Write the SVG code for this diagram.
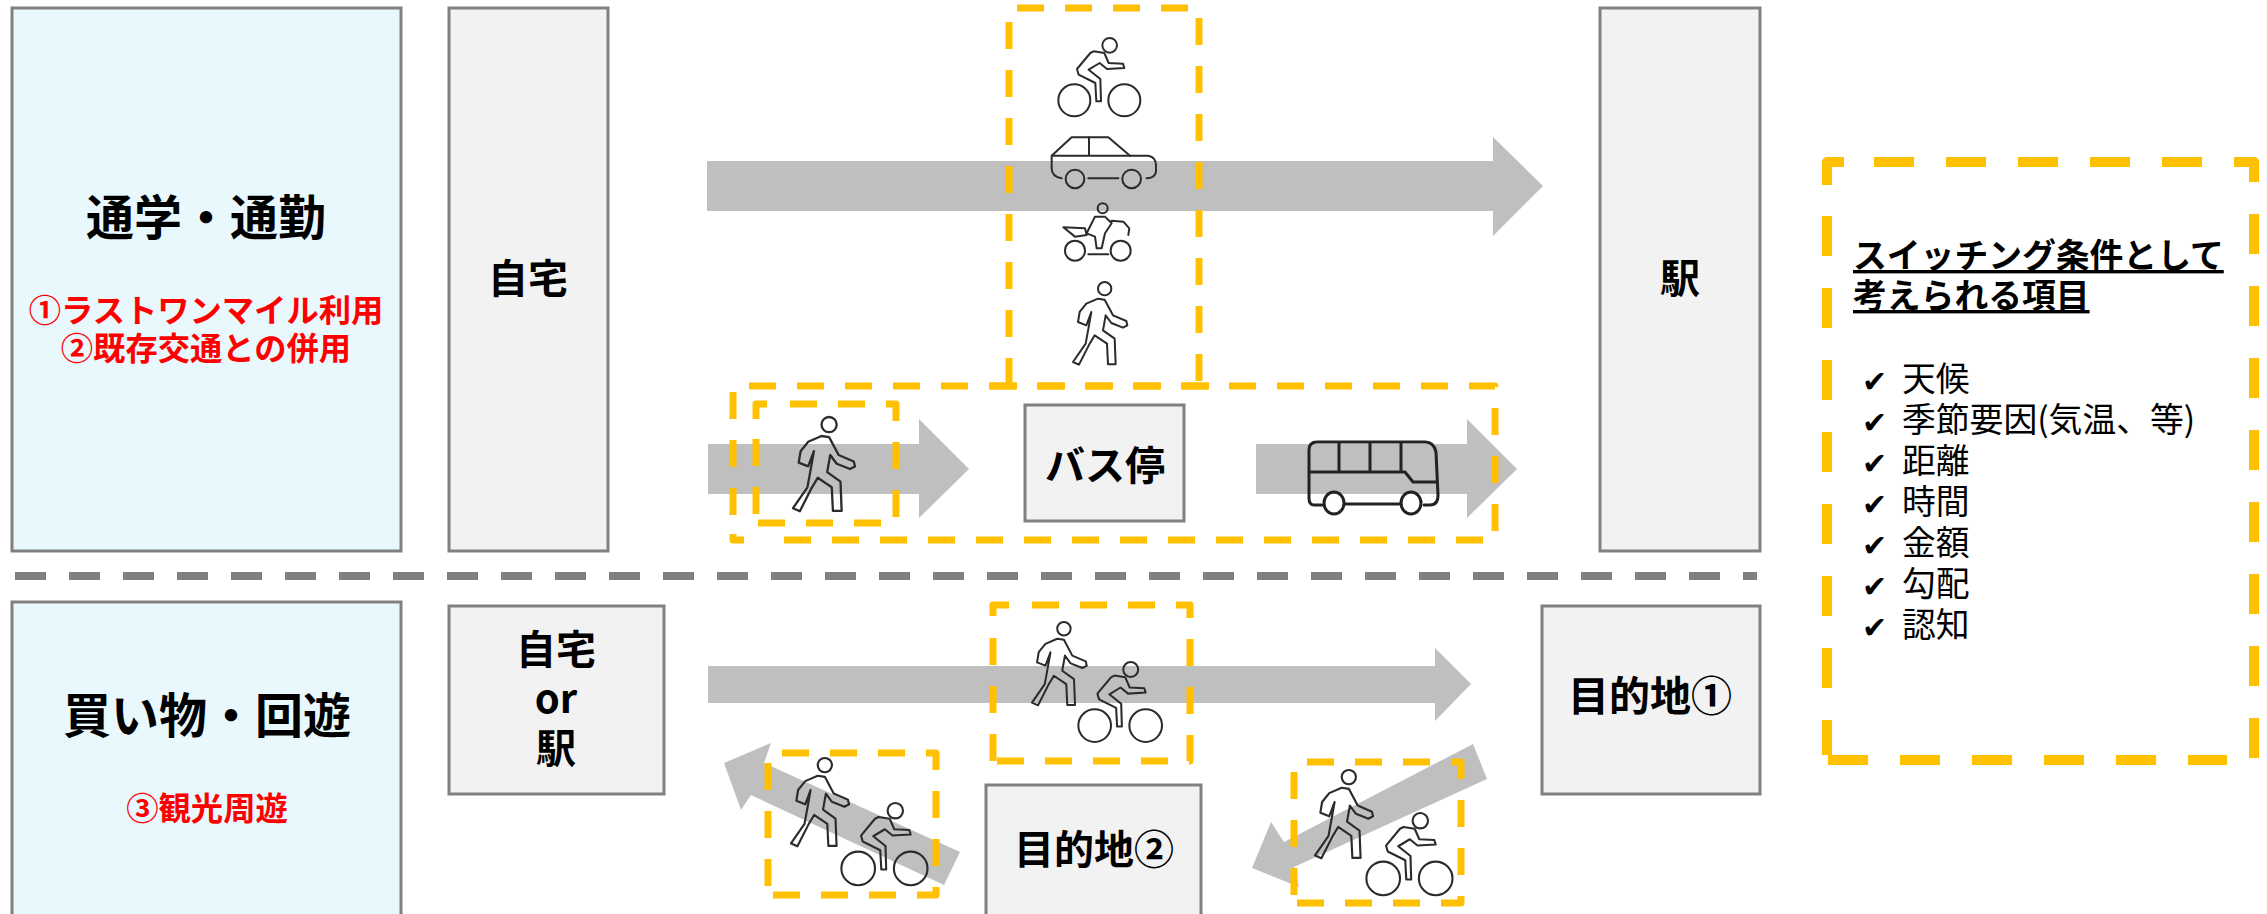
<svg xmlns="http://www.w3.org/2000/svg" xmlns:xlink="http://www.w3.org/1999/xlink" width="2267" height="914" viewBox="0 0 2267 914">
<style>
text{font-family:"Noto Sans CJK JP","Noto Sans CJK SC","Liberation Sans",sans-serif;fill:#000}
.c{text-anchor:middle}
.h{font-size:48px;font-weight:700}
.r{font-size:32.3px;font-weight:700;fill:#f00}
.m{font-size:40px;font-weight:700}
.t{font-size:33.8px;font-weight:700;text-decoration:underline}
.l{font-size:33.8px}
.k{font-size:30px;font-family:"DejaVu Sans",sans-serif;font-weight:700}
.bl{fill:#e9f8fd;stroke:#808080;stroke-width:3}
.gr{fill:#f2f2f2;stroke:#808080;stroke-width:3}
.ar{fill:#bfbfbf}
.d{fill:none;stroke:#ffc000;stroke-width:7;stroke-dasharray:27 21;stroke-linejoin:round}
.d2{fill:none;stroke:#ffc000;stroke-width:10;stroke-dasharray:40 32;stroke-linejoin:round}
.sep{fill:none;stroke:#7f7f7f;stroke-width:8;stroke-dasharray:31 23}
.i{fill:none;stroke:#2b2b2b;stroke-width:6;stroke-linejoin:round;stroke-linecap:round}
.s{fill:none;stroke:#222;stroke-width:3;stroke-linejoin:round;stroke-linecap:round}
</style>
<defs>
<g id="walker" transform="translate(-280,-845)" class="i">
<ellipse cx="375" cy="865" rx="20" ry="20"/>
<path d="M355 895L375 898L400 945L440 962L443 975L430 982L395 968L378 945L370 990L405 1015L408 1092L385 1092L382 1030L345 1005L330 1030L298 1093L280 1085L318 1030L328 975L335 935L320 975L295 965L300 935L320 910Z"/>
</g>
<g id="cyclist" transform="translate(-230,-115)" class="i">
<circle cx="282" cy="302" r="48"/><circle cx="432" cy="302" r="48"/><circle cx="388" cy="137" r="22"/>
<path d="M340 155L372 160L385 190L428 192L432 205L380 208L358 190L325 210L360 238L362 305L348 305L345 250L295 225L290 208L330 160Z"/>
</g>
</defs>
<g id="connectors">
<polygon class="ar" points="707,161 1493,161 1493,137 1543,186 1493,236 1493,211 707,211"/>
<polygon class="ar" points="708,444 919,444 919,419 969,469 919,518 919,494 708,494"/>
<polygon class="ar" points="1256,444 1467,444 1467,419 1517,469 1467,518 1467,494 1256,494"/>
<polygon class="ar" points="708,666 1435,666 1435,648 1471,684 1435,721 1435,703 708,703"/>
<polygon class="ar" points="724,763 771,743 764,763 960,852 944,885 751,795 741,810"/>
<polygon class="ar" points="1473,744 1487,779 1294,867 1299,887 1252,868 1271,822 1284,842"/>
</g>
<g id="node-commute"><rect class="bl" x="12" y="8" width="389" height="543"/>
<text class="h c" x="206" y="235">通学・通勤</text>
<text class="r c" x="206" y="322">①ラストワンマイル利用</text>
<text class="r c" x="206" y="360">②既存交通との併用</text></g>
<g id="node-shopping"><rect class="bl" x="12" y="602" width="389" height="320"/>
<text class="h c" x="207" y="733">買い物・回遊</text>
<text class="r c" x="207" y="820">③観光周遊</text></g>
<g id="node-home"><rect class="gr" x="449" y="8" width="159" height="543"/><text class="m c" x="528" y="293">自宅</text></g>
<g id="node-station"><rect class="gr" x="1600" y="8" width="160" height="543"/><text class="m c" x="1680" y="293">駅</text></g>
<g id="node-busstop"><rect class="gr" x="1025" y="405" width="159" height="116"/><text class="m c" x="1105" y="480">バス停</text></g>
<g id="node-home-or-station"><rect class="gr" x="449" y="606" width="215" height="188"/>
<text class="m c" x="556" y="664">自宅</text><text class="m c" x="556" y="713">or</text><text class="m c" x="556" y="763">駅</text></g>
<g id="node-dest1"><rect class="gr" x="1542" y="606" width="218" height="188"/><text class="c" x="1650" y="711" style="font-size:41px;font-weight:700">目的地①</text></g>
<g id="node-dest2"><rect class="gr" x="986" y="785" width="215" height="135"/><text class="m c" x="1094" y="864">目的地②</text></g>
<g id="sep"><path class="sep" d="M15 576H1757"/></g>
<g id="dash-top"><path class="d" d="M1017 8H1199V386"/><path class="d" d="M1009 22V386"/><path class="d" d="M990 386H1210"/></g>
<g id="dash-bus"><path class="d" d="M749 386H1495V540H781"/><path class="d" d="M733 392V516"/><path class="d" d="M733 534V540H744"/></g>
<g id="dash-walk"><path class="d" d="M790 404H896V523H758"/><path class="d" d="M756 419V404H767"/><path class="d" d="M756 439V516"/></g>
<g id="dash-mid"><path class="d" d="M1032 605H1190V761H993"/><path class="d" d="M993 616V605H1010"/><path class="d" d="M993 638V761"/></g>
<g id="dash-left"><path class="d" d="M782 753H936V895H770"/><path class="d" d="M768 763V895"/></g>
<g id="dash-right"><path class="d" d="M1307 762H1461V903H1294"/><path class="d" d="M1294 772V903"/></g>
<g id="icon-bicycle-top"><use xlink:href="#cyclist" href="#cyclist" transform="translate(1057,38) scale(.3333)"/></g>
<g id="icon-car" transform="translate(980,0) scale(.3333)" class="i">
<path d="M245 535Q215 530 215 505V467L275 412H385L450 467H505Q528 472 528 495V515Q525 535 500 535"/>
<path d="M220 467H450M327 412V467M325 535H415"/><circle cx="285" cy="537" r="28"/><circle cx="455" cy="537" r="28"/></g>
<g id="icon-motorbike" transform="translate(980,0) scale(.3333)" class="i">
<circle cx="285" cy="752" r="30"/><circle cx="422" cy="752" r="30"/><circle cx="368" cy="625" r="15"/>
<path d="M325 763H385M345 650L320 700L345 710L350 745L365 745L375 700L395 670L375 650ZM250 682L315 685L320 705L285 710ZM395 662L430 665L448 685L445 705"/></g>
<g id="icon-walker-top"><use xlink:href="#walker" href="#walker" transform="translate(1073,282) scale(.3333)"/></g>
<g id="icon-walker-bus"><use xlink:href="#walker" href="#walker" transform="translate(793,417) scale(.38)"/></g>
<g id="icon-bus" class="s"><path d="M1322 505H1314Q1309 505 1309 498V450Q1309 442 1317 442H1425Q1434 442 1436 452L1438 495Q1438 505 1430 505H1424M1345 504H1400M1309 472H1405L1413 482H1437M1339 442V472M1370 442V472M1401 442V472"/><ellipse cx="1334" cy="503" rx="10" ry="11"/><ellipse cx="1411" cy="503" rx="10" ry="11"/></g>
<g id="icon-pair-mid"><use xlink:href="#walker" href="#walker" transform="translate(1032,622) scale(.336)"/><use xlink:href="#cyclist" href="#cyclist" transform="translate(1077,662) scale(.34)"/></g>
<g id="icon-pair-left"><use xlink:href="#walker" href="#walker" transform="translate(791,758) scale(.356)"/><use xlink:href="#cyclist" href="#cyclist" transform="translate(840,803) scale(.35)"/></g>
<g id="icon-pair-right"><use xlink:href="#walker" href="#walker" transform="translate(1315,770) scale(.356)"/><use xlink:href="#cyclist" href="#cyclist" transform="translate(1365,813) scale(.35)"/></g>
<g id="node-conditions">
<path class="d2" d="M1874 162H2254V760"/><path class="d2" d="M1827 185V162H1845"/><path class="d2" d="M1827 216V755"/><path class="d2" d="M1828 760H2227"/>
<text class="t" x="1853" y="268">スイッチング条件として</text>
<text class="t" x="1853" y="308">考えられる項目</text>
<text class="k" x="1862" y="392">✔</text><text class="l" x="1902" y="391">天候</text>
<text class="k" x="1862" y="433">✔</text><text class="l" x="1902" y="432">季節要因(気温、等)</text>
<text class="k" x="1862" y="474">✔</text><text class="l" x="1902" y="473">距離</text>
<text class="k" x="1862" y="515">✔</text><text class="l" x="1902" y="514">時間</text>
<text class="k" x="1862" y="556">✔</text><text class="l" x="1902" y="555">金額</text>
<text class="k" x="1862" y="597">✔</text><text class="l" x="1902" y="596">勾配</text>
<text class="k" x="1862" y="638">✔</text><text class="l" x="1902" y="637">認知</text>
</g>
</svg>
